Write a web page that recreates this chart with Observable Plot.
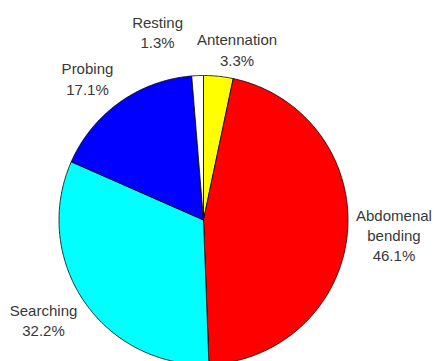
<!DOCTYPE html>
<html>
<head>
<meta charset="utf-8">
<script src="https://cdn.jsdelivr.net/npm/d3@7"></script>
<script src="https://cdn.jsdelivr.net/npm/@observablehq/plot@0.6"></script>
<style>
  html, body { margin: 0; padding: 0; background: #fff; }
  #chart { width: 434px; height: 361px; overflow: hidden; }
</style>
</head>
<body>
<div id="chart"></div>
<script>
// Data
const categories = ["Antennation", "Abdomenal bending", "Searching", "Probing", "Resting"];
const percents = [3.3, 46.1, 32.2, 17.1, 1.3];
const labels = ["Antennation\n3.3%", "Abdomenal\nbending\n46.1%", "Searching\n32.2%", "Probing\n17.1%", "Resting\n1.3%"];
const colors = ["#FFFF00", "#FF0000", "#00FFFF", "#0000FF", "#FFFFFF"];

// Layout (label block centres in pie-radius units, not data)
const labelPos = [[0.232, 1.183], [1.318, -0.100], [-1.107, -0.689], [-0.803, 0.983], [-0.318, 1.304]];

const table = categories.map((c, i) => ({name: c, value: percents[i], label: labels[i]}));
const arcs = d3.pie().sort(null).value(d => d.value).startAngle(0).endAngle(2 * Math.PI)(table);

// slice outlines: centre -> arc -> centre
const outline = [];
arcs.forEach(a => {
  outline.push({name: a.data.name, x: 0, y: 0});
  const n = Math.max(2, Math.ceil((a.endAngle - a.startAngle) / (Math.PI / 360)));
  for (let k = 0; k <= n; k++) {
    const t = a.startAngle + (a.endAngle - a.startAngle) * k / n;
    outline.push({name: a.data.name, x: Math.sin(t), y: Math.cos(t)});
  }
  outline.push({name: a.data.name, x: 0, y: 0});
});

const labelData = table.map((d, i) => ({label: d.label, x: labelPos[i][0], y: labelPos[i][1]}));

const cx = 203, cy = 219.5, r = 144.5, W = 434, H = 361;

const chart = Plot.plot({
  width: W,
  height: H,
  margin: 0,
  style: {fontFamily: "'Liberation Sans', Arial, sans-serif", background: "#fff"},
  x: {domain: [(0 - cx) / r, (W - cx) / r], range: [0, W], axis: null},
  y: {domain: [(cy - H) / r, cy / r], range: [H, 0], axis: null},
  color: {domain: categories, range: colors},
  marks: [
    Plot.line(outline, {x: "x", y: "y", z: "name", fill: "name", stroke: "#000", strokeWidth: 0.8, strokeLinejoin: "round"}),
    Plot.text(labelData, {x: "x", y: "y", text: "label", fontSize: 15, lineHeight: 1.36, fill: "#383838", textAnchor: "middle"})
  ]
});
document.getElementById("chart").appendChild(chart);
</script>
</body>
</html>
